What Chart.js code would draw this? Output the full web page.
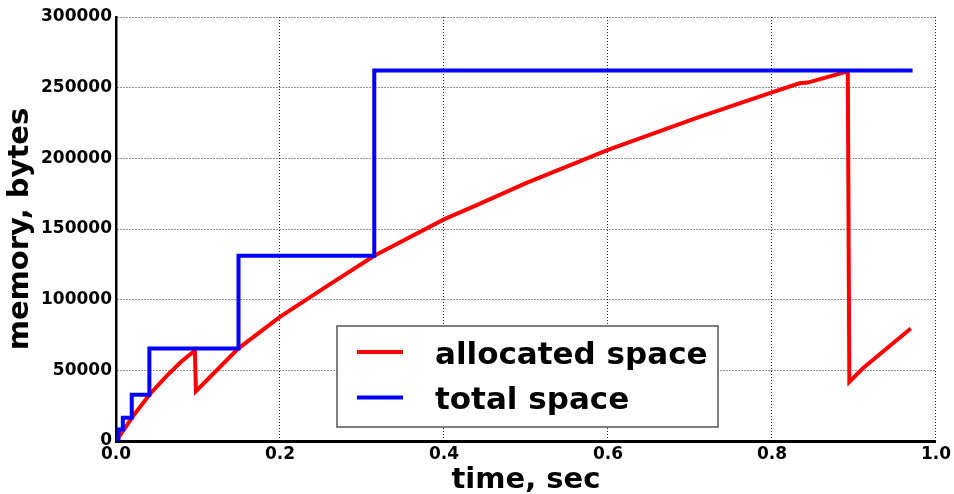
<!DOCTYPE html>
<html>
<head>
<meta charset="utf-8">
<script src="https://cdn.jsdelivr.net/npm/chart.js@4.4.1/dist/chart.umd.min.js"></script>
<style>
  html, body { margin: 0; padding: 0; background: #ffffff; }
  #c { display: block; }
</style>
</head>
<body>
<canvas id="c" width="954" height="494"></canvas>
<script>
// ---- data ----
const seriesNames = ['allocated space', 'total space'];

const allocTime = [0, 0.012, 0.0192, 0.0407, 0.061, 0.0791, 0.0962, 0.0975, 0.1494, 0.2, 0.2597, 0.315,
                   0.4, 0.4427, 0.5, 0.6, 0.71, 0.8, 0.8336, 0.8437, 0.8925, 0.8944, 0.9106, 0.9693];
const allocBytes = [0, 10000, 16384, 32768, 45500, 55900, 64000, 35200, 65536, 87800, 110500, 131072,
                    156800, 167600, 182500, 206000, 229000, 246600, 253100, 253600, 261500, 41800, 51300, 79600];

const totalTime = [0, 0.003, 0.0083, 0.0192, 0.0407, 0.1494, 0.315, 0.9715];
const totalBytes = [0, 8192, 16384, 32768, 65536, 131072, 262144, 262144];

const xTicks = [0, 0.2, 0.4, 0.6, 0.8, 1.0];
const yTicks = [0, 50000, 100000, 150000, 200000, 250000, 300000];

const xTitle = 'time, sec';
const yTitle = 'memory, bytes';

// ---- build chart ----
const toPoints = (xs, ys) => xs.map((x, i) => ({ x: x, y: ys[i] }));

const FONT = "'DejaVu Sans', 'Liberation Sans', sans-serif";
Chart.defaults.font.family = FONT;
Chart.defaults.font.weight = 'bold';
Chart.defaults.color = '#000';

const legendPlugin = {
  id: 'boxLegend',
  afterDraw(chart) {
    const ctx = chart.ctx;
    const ds = chart.data.datasets;
    const bx = 337, by = 326, bw = 381, bh = 101;
    ctx.save();
    ctx.fillStyle = '#ffffff';
    ctx.fillRect(bx, by, bw, bh);
    ctx.strokeStyle = '#555555';
    ctx.lineWidth = 1.5;
    ctx.strokeRect(bx, by, bw, bh);
    const rows = [352, 397.5];
    ds.forEach((d, i) => {
      const y = rows[i];
      ctx.strokeStyle = d.borderColor;
      ctx.lineWidth = 4;
      ctx.beginPath();
      ctx.moveTo(357, y);
      ctx.lineTo(403, y);
      ctx.stroke();
      ctx.fillStyle = '#000';
      ctx.font = "bold 31px " + FONT;
      ctx.textBaseline = 'alphabetic';
      ctx.textAlign = 'left';
      ctx.fillText(d.label, 435, y + 11.5);
    });
    ctx.restore();
  }
};

new Chart(document.getElementById('c'), {
  type: 'line',
  data: {
    datasets: [
      {
        label: seriesNames[0],
        data: toPoints(allocTime, allocBytes),
        borderColor: '#ff0000',
        borderWidth: 4,
        pointRadius: 0,
        tension: 0,
        fill: false,
        order: 1
      },
      {
        label: seriesNames[1],
        data: toPoints(totalTime, totalBytes),
        borderColor: '#0000ff',
        borderWidth: 4,
        pointRadius: 0,
        stepped: 'before',
        tension: 0,
        fill: false,
        order: 0
      }
    ]
  },
  options: {
    responsive: false,
    animation: false,
    devicePixelRatio: 1,
    layout: { padding: { left: 0, top: 17, right: 16, bottom: 0 } },
    plugins: {
      legend: { display: false },
      tooltip: { enabled: false }
    },
    scales: {
      x: {
        type: 'linear',
        min: 0,
        max: 1,
        afterFit(scale) { scale.height = 53; },
        afterBuildTicks(scale) { scale.ticks = xTicks.map(v => ({ value: v })); },
        ticks: {
          autoSkip: false,
          maxRotation: 0,
          padding: 3,
          font: { size: 17, weight: 'bold' },
          color: '#000',
          callback: v => Number(v).toFixed(1)
        },
        grid: {
          color: 'rgba(0,0,0,0.85)',
          lineWidth: 1,
          drawTicks: false
        },
        border: { display: true, color: '#000', width: 3, dash: [1, 2] },
        title: {
          display: true,
          text: xTitle,
          color: '#000',
          font: { size: 29, weight: 'bold', lineHeight: 0.9 },
          padding: { top: 0, bottom: 0 }
        }
      },
      y: {
        type: 'linear',
        min: 0,
        max: 300000,
        afterFit(scale) { scale.width = 116; },
        afterBuildTicks(scale) { scale.ticks = yTicks.map(v => ({ value: v })); },
        ticks: {
          autoSkip: false,
          padding: 4,
          font: { size: 17, weight: 'bold' },
          color: '#000',
          callback: v => String(v)
        },
        grid: {
          color: 'rgba(0,0,0,0.85)',
          lineWidth: 1,
          drawTicks: false
        },
        border: { display: true, color: '#000', width: 2.5, dash: [1, 2] },
        title: {
          display: true,
          text: yTitle,
          color: '#000',
          font: { size: 29, weight: 'bold', lineHeight: 0.9 },
          padding: { top: 7, bottom: 0 }
        }
      }
    }
  },
  plugins: [legendPlugin]
});
</script>
</body>
</html>
